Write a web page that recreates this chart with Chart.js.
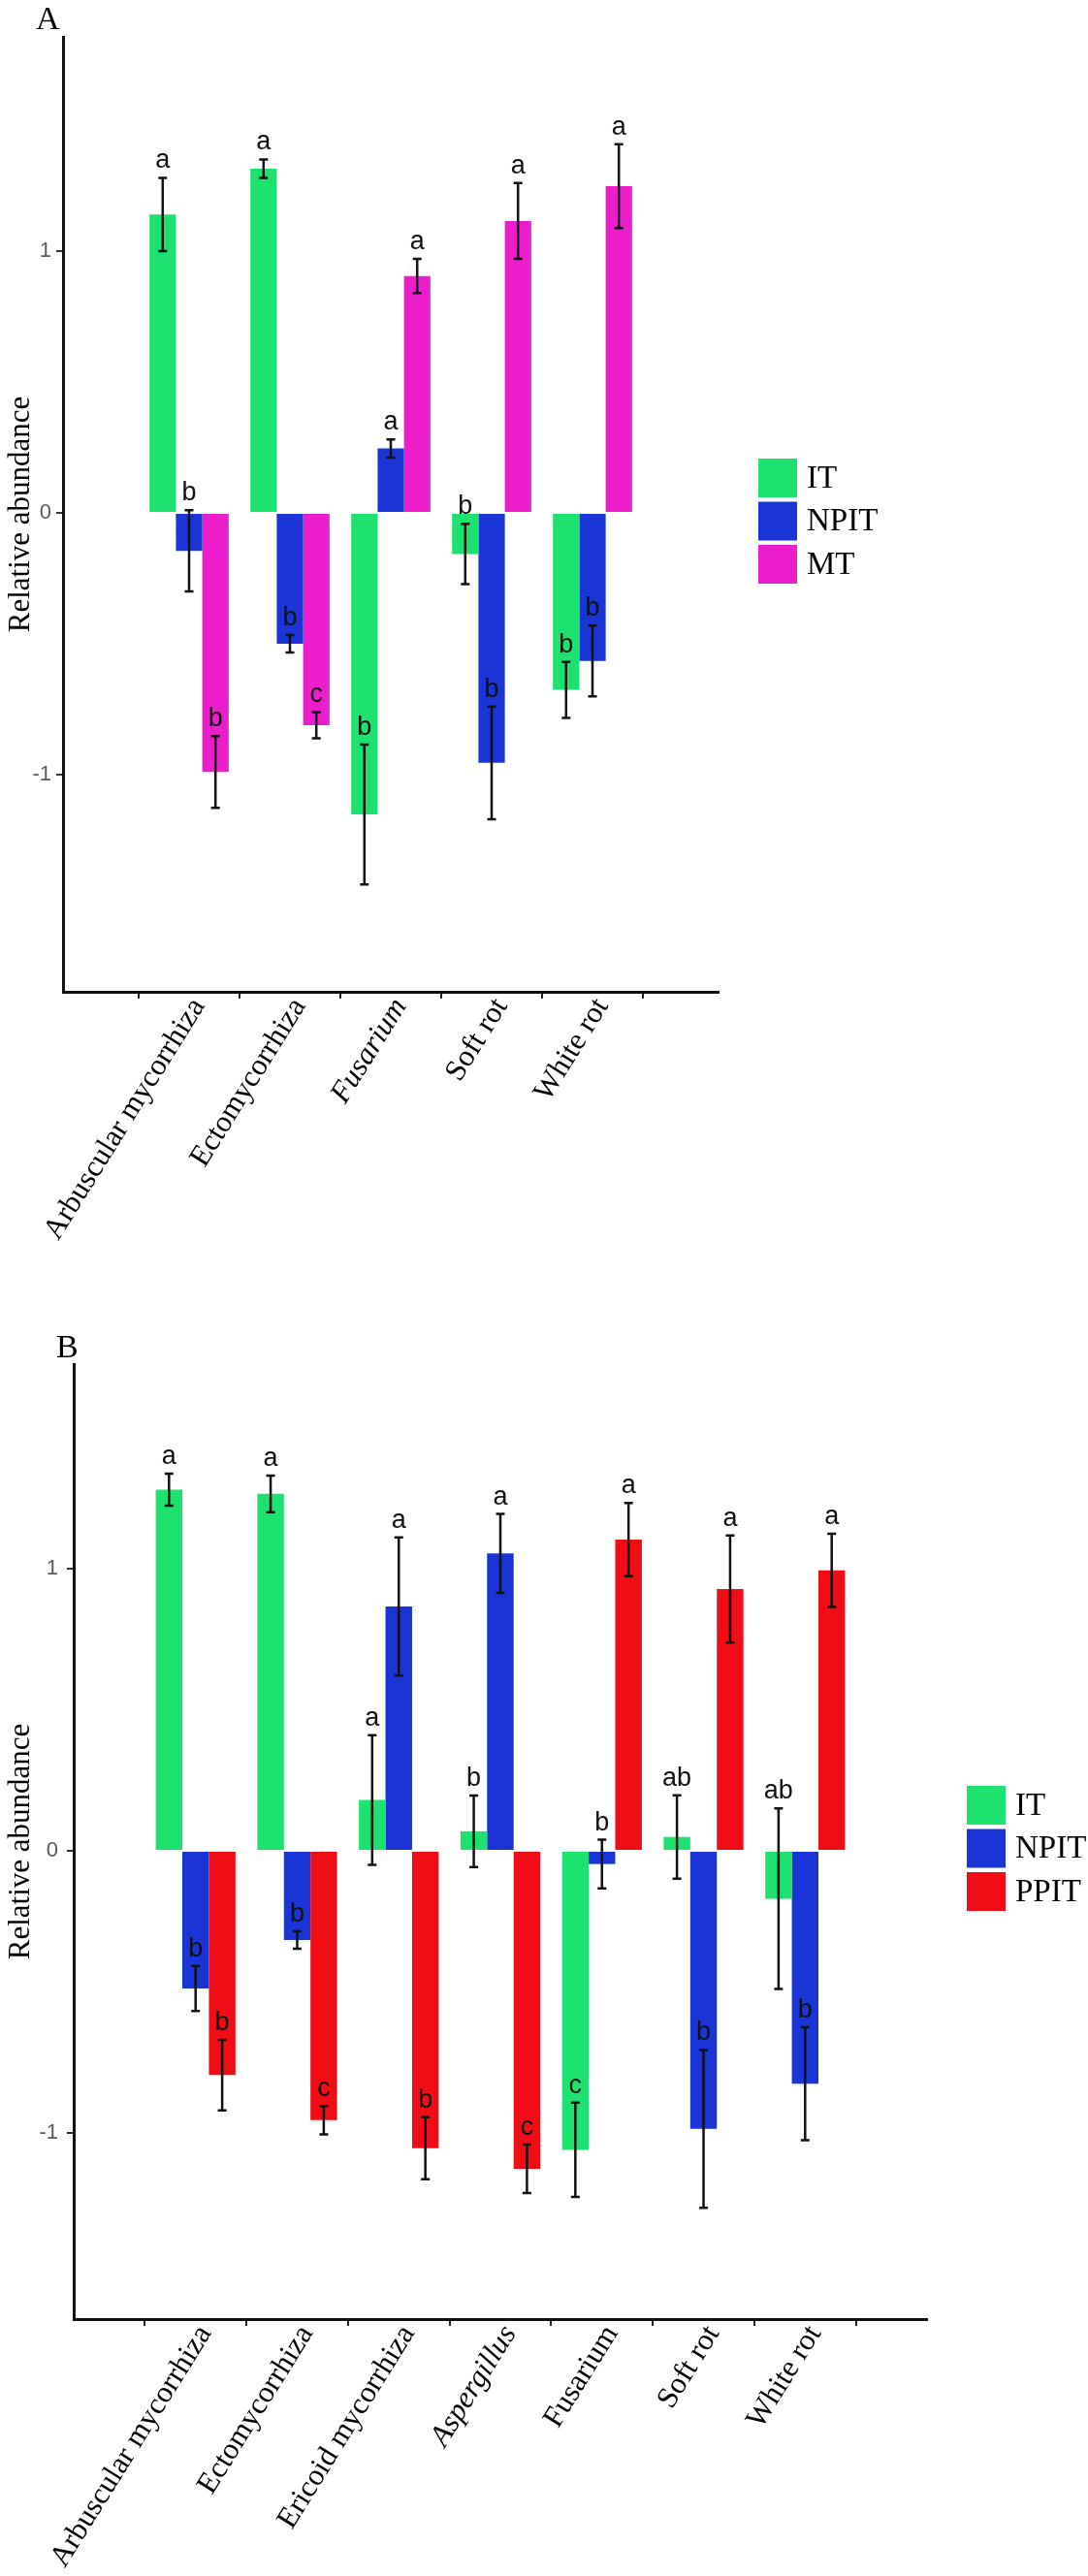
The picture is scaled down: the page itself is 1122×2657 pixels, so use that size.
<!DOCTYPE html>
<html><head><meta charset="utf-8">
<script src="https://cdn.jsdelivr.net/npm/chart.js@4.4.1/dist/chart.umd.min.js"></script>
<style>
html,body{margin:0;padding:0;background:#fff;}
#wrap{position:relative;width:1122px;height:2657px;overflow:hidden;background:#fff;}
canvas{position:absolute;left:0;}
</style></head><body>
<div id="wrap">
<canvas id="cA" width="1122" height="1340" style="top:0;width:1122px;height:1340px"></canvas>
<canvas id="cB" width="1122" height="1317" style="top:1340px;width:1122px;height:1317px"></canvas>
</div>
<script>
// ---------- Panel A data ----------
const catsA = ['Arbuscular mycorrhiza', 'Ectomycorrhiza', 'Fusarium', 'Soft rot', 'White rot'];
const italicA = [2];
const itA = [1.14, 1.315, -1.152, -0.157, -0.676];
const itSeA = [0.14, 0.035, 0.267, 0.115, 0.107];
const itLetA = ['a', 'a', 'b', 'b', 'b'];
const npitA = [-0.145, -0.50, 0.246, -0.955, -0.566];
const npitSeA = [0.155, 0.033, 0.035, 0.215, 0.135];
const npitLetA = ['b', 'b', 'a', 'b', 'b'];
const mtA = [-0.99, -0.811, 0.905, 1.115, 1.248];
const mtSeA = [0.137, 0.05, 0.065, 0.145, 0.16];
const mtLetA = ['b', 'c', 'a', 'a', 'a'];
const yTicksA = [-1, 0, 1];

// ---------- Panel B data ----------
const catsB = ['Arbuscular mycorrhiza', 'Ectomycorrhiza', 'Ericoid mycorrhiza', 'Aspergillus', 'Fusarium', 'Soft rot', 'White rot'];
const italicB = [3];
const itB = [1.28, 1.265, 0.18, 0.069, -1.06, 0.049, -0.17];
const itSeB = [0.057, 0.065, 0.23, 0.127, 0.167, 0.148, 0.32];
const itLetB = ['a', 'a', 'a', 'b', 'c', 'ab', 'ab'];
const npitB = [-0.488, -0.316, 0.866, 1.054, -0.047, -0.986, -0.826];
const npitSeB = [0.08, 0.031, 0.245, 0.14, 0.086, 0.28, 0.2];
const npitLetB = ['b', 'b', 'a', 'a', 'b', 'b', 'b'];
const ppitB = [-0.795, -0.955, -1.054, -1.127, 1.103, 0.928, 0.994];
const ppitSeB = [0.125, 0.05, 0.11, 0.086, 0.13, 0.19, 0.13];
const ppitLetB = ['b', 'c', 'b', 'c', 'a', 'a', 'a'];
const yTicksB = [-1, 0, 1];

const GREEN = '#1EE270', BLUE = '#1A34D6', MAGENTA = '#EC1DCB', RED = '#F00D16';

const errPlugin = {
  id: 'errbars',
  afterDatasetsDraw(chart) {
    const ctx = chart.ctx, ys = chart.scales.y;
    chart.data.datasets.forEach((ds, di) => {
      const meta = chart.getDatasetMeta(di);
      meta.data.forEach((bar, i) => {
        const v = ds.data[i].y, se = ds.se[i];
        const yt = ys.getPixelForValue(v + se), yb = ys.getPixelForValue(v - se);
        ctx.save();
        ctx.strokeStyle = '#111';
        ctx.lineWidth = 2.5;
        ctx.beginPath();
        ctx.moveTo(bar.x, yt); ctx.lineTo(bar.x, yb);
        ctx.moveTo(bar.x - 4.5, yt); ctx.lineTo(bar.x + 4.5, yt);
        ctx.moveTo(bar.x - 4.5, yb); ctx.lineTo(bar.x + 4.5, yb);
        ctx.stroke();
        ctx.fillStyle = '#111';
        ctx.font = '27px "Liberation Sans", Arial, sans-serif';
        ctx.textAlign = 'center';
        ctx.textBaseline = 'alphabetic';
        ctx.fillText(ds.letters[i], bar.x, yt - 10);
        ctx.restore();
      });
    });
  }
};

const legendPlugin = {
  id: 'sideLegend',
  afterDraw(chart, args, opts) {
    const ctx = chart.ctx, ca = chart.chartArea;
    const dss = chart.data.datasets;
    const size = 40, step = 44.5;
    const x0 = ca.right + 41;
    const cy = (ca.top + ca.bottom) / 2 + 7;
    const top = cy - ((dss.length - 1) * step + size) / 2;
    ctx.save();
    dss.forEach((ds, i) => {
      const y = top + i * step;
      ctx.fillStyle = ds.backgroundColor;
      ctx.fillRect(x0, y, size, size);
      ctx.fillStyle = '#000';
      ctx.font = '33px "Liberation Serif", "Times New Roman", serif';
      ctx.textAlign = 'left';
      ctx.textBaseline = 'middle';
      ctx.fillText(ds.label, x0 + size + 10, y + size / 2 + 1);
    });
    if (opts && opts.tag) {
      ctx.fillStyle = '#000';
      ctx.font = '34px "Liberation Serif", "Times New Roman", serif';
      ctx.textAlign = 'left';
      ctx.textBaseline = 'alphabetic';
      ctx.fillText(opts.tag, opts.tagX, opts.tagY);
    }
    ctx.restore();
  }
};

function makeChart(id, cfg) {
  const cats = cfg.cats;
  return new Chart(document.getElementById(id), {
    type: 'bar',
    data: {
      datasets: cfg.series.map(s => ({
        label: s.name,
        data: s.vals.map((v, i) => ({ x: i, y: v })),
        se: s.se,
        letters: s.letters,
        backgroundColor: s.color,
        borderWidth: 0,
        barPercentage: 1,
        categoryPercentage: 0.785
      }))
    },
    options: {
      responsive: false,
      animation: false,
      devicePixelRatio: 1,
      layout: { padding: { top: cfg.padTop, right: cfg.padRight, left: 0, bottom: 0 } },
      plugins: {
        legend: { display: false },
        tooltip: { enabled: false },
        sideLegend: { tag: cfg.tag, tagX: cfg.tagX, tagY: cfg.tagY }
      },
      scales: {
        x: {
          type: 'linear',
          min: -0.6,
          max: cats.length - 0.4,
          afterBuildTicks: s => { s.ticks = cats.map((c, i) => ({ value: i })); },
          afterFit: s => { s.height = cfg.xAxisH; s.paddingLeft = 0; s.paddingRight = 0; },
          ticks: {
            autoSkip: false,
            minRotation: 58,
            maxRotation: 58,
            padding: -7,
            labelOffset: 10,
            color: '#000',
            font: c => ({ family: '"Liberation Serif", "Times New Roman", serif', size: 31,
              style: cfg.italic.includes(c.index) ? 'italic' : 'normal' }),
            callback: v => cats[v]
          },
          grid: { drawOnChartArea: false, drawTicks: true, tickLength: 7, color: '#222', lineWidth: 2 },
          border: { display: true, color: '#111', width: 3 }
        },
        y: {
          min: cfg.yMin,
          max: cfg.yMax,
          afterBuildTicks: s => { s.ticks = cfg.yTicks.map(v => ({ value: v })); },
          afterFit: s => { s.width = cfg.yAxisW; s.paddingTop = 0; s.paddingBottom = 0; },
          ticks: {
            color: '#5a5a5a',
            font: { family: '"Liberation Sans", Arial, sans-serif', size: 22 },
            padding: cfg.yTickPad,
            callback: v => String(v)
          },
          grid: { drawOnChartArea: false, drawTicks: true, tickLength: 7, color: '#333', lineWidth: 2 },
          border: { display: true, color: '#111', width: 3 },
          title: {
            display: true,
            text: 'Relative abundance',
            color: '#000',
            font: { family: '"Liberation Serif", "Times New Roman", serif', size: 31 },
            padding: { top: 3, bottom: 0 }
          }
        }
      }
    },
    plugins: [errPlugin, legendPlugin]
  });
}

makeChart('cA', {
  cats: catsA, italic: italicA, yTicks: yTicksA,
  yMin: -1.8296, yMax: 1.8185,
  padTop: 38, padRight: 381, yAxisW: 65, xAxisH: 317, yTickPad: 5,
  tag: 'A', tagX: 37, tagY: 30,
  series: [
    { name: 'IT', vals: itA, se: itSeA, letters: itLetA, color: GREEN },
    { name: 'NPIT', vals: npitA, se: npitSeA, letters: npitLetA, color: BLUE },
    { name: 'MT', vals: mtA, se: mtSeA, letters: mtLetA, color: MAGENTA }
  ]
});

makeChart('cB', {
  cats: catsB, italic: italicB, yTicks: yTicksB,
  yMin: -1.66, yMax: 1.725,
  padTop: 67, padRight: 166, yAxisW: 76, xAxisH: 265, yTickPad: 9,
  tag: 'B', tagX: 58, tagY: 60,
  series: [
    { name: 'IT', vals: itB, se: itSeB, letters: itLetB, color: GREEN },
    { name: 'NPIT', vals: npitB, se: npitSeB, letters: npitLetB, color: BLUE },
    { name: 'PPIT', vals: ppitB, se: ppitSeB, letters: ppitLetB, color: RED }
  ]
});
</script>
</body></html>
